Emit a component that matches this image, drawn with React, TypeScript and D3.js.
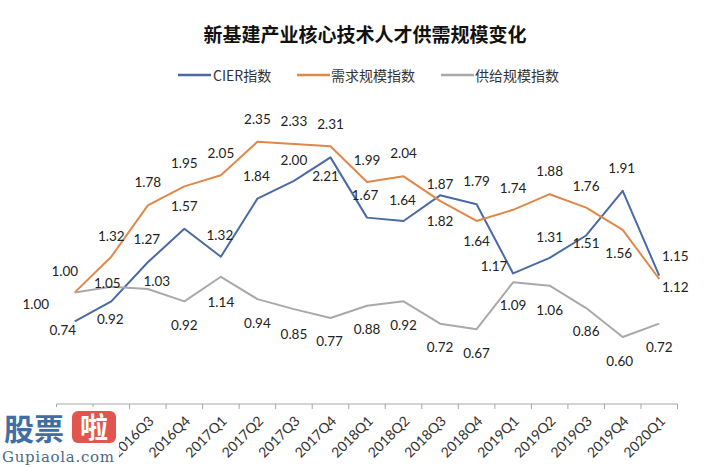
import React from "react";
import * as d3 from "d3";

const categories = [
  "2016Q1", "2016Q2", "2016Q3", "2016Q4",
  "2017Q1", "2017Q2", "2017Q3", "2017Q4",
  "2018Q1", "2018Q2", "2018Q3", "2018Q4",
  "2019Q1", "2019Q2", "2019Q3", "2019Q4",
  "2020Q1",
];

const cierValues = [0.74, 0.92, 1.27, 1.57, 1.32, 1.84, 2.0, 2.21, 1.67, 1.64, 1.87, 1.79, 1.17, 1.31, 1.51, 1.91, 1.15];
const demandValues = [1.0, 1.32, 1.78, 1.95, 2.05, 2.35, 2.33, 2.31, 1.99, 2.04, 1.82, 1.64, 1.74, 1.88, 1.76, 1.56, 1.12];
const supplyValues = [1.0, 1.05, 1.03, 0.92, 1.14, 0.94, 0.85, 0.77, 0.88, 0.92, 0.72, 0.67, 1.09, 1.06, 0.86, 0.6, 0.72];

const seriesNames = ["CIER指数", "需求规模指数", "供给规模指数"];
const titleText = "新基建产业核心技术人才供需规模变化";

// label placement offsets (dx, dy) relative to each point
const cierLabelOffsets: [number, number][] = [
  [-12, 9], [-1, 18], [-1, -23], [0, -23], [-1, -22], [-1, -23], [0, -21], [-5, 19],
  [-2, -23], [-1, -21], [0, -11], [0, -23], [-19, -7], [0, -21], [0, 8], [-1, -23], [16, -20],
];
const demandLabelOffsets: [number, number][] = [
  [-10, -21], [0, -21], [0, -23], [0, -23], [0, -22], [0, -23], [0, -23], [0, -22],
  [0, -22], [0, -23], [0, 20], [0, 20], [0, -22], [0, -23], [0, -22], [-4, 23], [16, 8],
];
const supplyLabelOffsets: [number, number][] = [
  [-39, 12], [-4, -4], [9, -8], [0, 24], [0, 25], [0, 24], [0, 25], [-1, 23],
  [0, 23], [0, 24], [0, 23], [0, 24], [0, 23], [0, 24], [0, 23], [-3, 24], [0, 23],
];

const colors = ["#4a6aa5", "#e0874a", "#a9a9a9"];

export default function App() {
  const W = 715;
  const H = 467;
  const x = d3.scaleBand<string>().domain(categories).range([56.5, 677.5]).padding(0);
  const y = d3.scaleLinear().domain([0, 2.5]).range([404, 125]);
  const cx = (c: string) => (x(c) as number) + x.bandwidth() / 2;

  const series = [
    { name: seriesNames[0], values: cierValues, offsets: cierLabelOffsets, color: colors[0] },
    { name: seriesNames[1], values: demandValues, offsets: demandLabelOffsets, color: colors[1] },
    { name: seriesNames[2], values: supplyValues, offsets: supplyLabelOffsets, color: colors[2] },
  ];

  const line = d3
    .line<number>()
    .x((_, i) => cx(categories[i]))
    .y((v) => y(v));

  const axisY = y(0);
  const boundaries = categories.map((c) => x(c) as number).concat([x.range()[1]]);

  const labelFont = "Lato, 'Noto Sans', sans-serif";
  const cjkFont = "'Noto Sans CJK SC', 'Noto Sans', sans-serif";

  const legendItems = [
    { lx: 178, tx: 213 },
    { lx: 297, tx: 331 },
    { lx: 441, tx: 475 },
  ];

  return (
    <svg
      width={W}
      height={H}
      style={{ position: "absolute", left: 0, top: 0, background: "#fff" }}
    >
      <rect x={0} y={0} width={W} height={H} fill="#fff" />
      <text
        x={365}
        y={33}
        textAnchor="middle"
        dominantBaseline="central"
        fontFamily={cjkFont}
        fontWeight="bold"
        fontSize={19}
        fill="#111"
      >
        {titleText}
      </text>

      {series.map((s, i) => (
        <g key={s.name}>
          <line x1={legendItems[i].lx} x2={legendItems[i].lx + 33} y1={75} y2={75} stroke={s.color} strokeWidth={2.5} />
          <text
            x={legendItems[i].tx}
            y={75}
            dominantBaseline="central"
            fontFamily={cjkFont}
            fontSize={14}
            fill="#333"
          >
            {s.name}
          </text>
        </g>
      ))}

      <line x1={x.range()[0]} x2={x.range()[1]} y1={axisY} y2={axisY} stroke="#a6a6a6" strokeWidth={1} />
      {boundaries.map((b, i) => (
        <line key={i} x1={b} x2={b} y1={axisY} y2={axisY + 5} stroke="#a6a6a6" strokeWidth={1} />
      ))}
      {categories.map((c) => (
        <text
          key={c}
          transform={`translate(${cx(c) + 3},${axisY + 14}) rotate(-45)`}
          textAnchor="end"
          dominantBaseline="central"
          fontFamily={labelFont}
          fontSize={14}
          fill="#333"
        >
          {c}
        </text>
      ))}

      {series.map((s) => (
        <path
          key={s.name}
          d={line(s.values) || ""}
          fill="none"
          stroke={s.color}
          strokeWidth={2}
          strokeLinejoin="round"
        />
      ))}

      {series.map((s) =>
        s.values.map((v, i) => (
          <text
            key={s.name + i}
            x={cx(categories[i]) + s.offsets[i][0]}
            y={y(v) + s.offsets[i][1]}
            textAnchor="middle"
            dominantBaseline="central"
            fontFamily={labelFont}
            fontSize={13.5}
            fill="#222"
          >
            {v.toFixed(2)}
          </text>
        ))
      )}

      <g>
        <rect x={0} y={407} width={119} height={60} fill="#fff" />
        <text x={4} y={440} fontFamily={cjkFont} fontWeight="bold" fontSize={30} fill="#3f6ea5">
          股票
        </text>
        <rect x={72} y={411} width={44} height={32} rx={6} fill="#e2554f" />
        <text x={94} y={438} textAnchor="middle" fontFamily={cjkFont} fontWeight="bold" fontSize={28} fill="#fff">
          啦
        </text>
        <text x={2} y={462} fontFamily="'DejaVu Serif', serif" fontSize={15} fill="#4a6a8a" textLength={112}>
          Gupiaola.com
        </text>
      </g>
    </svg>
  );
}
